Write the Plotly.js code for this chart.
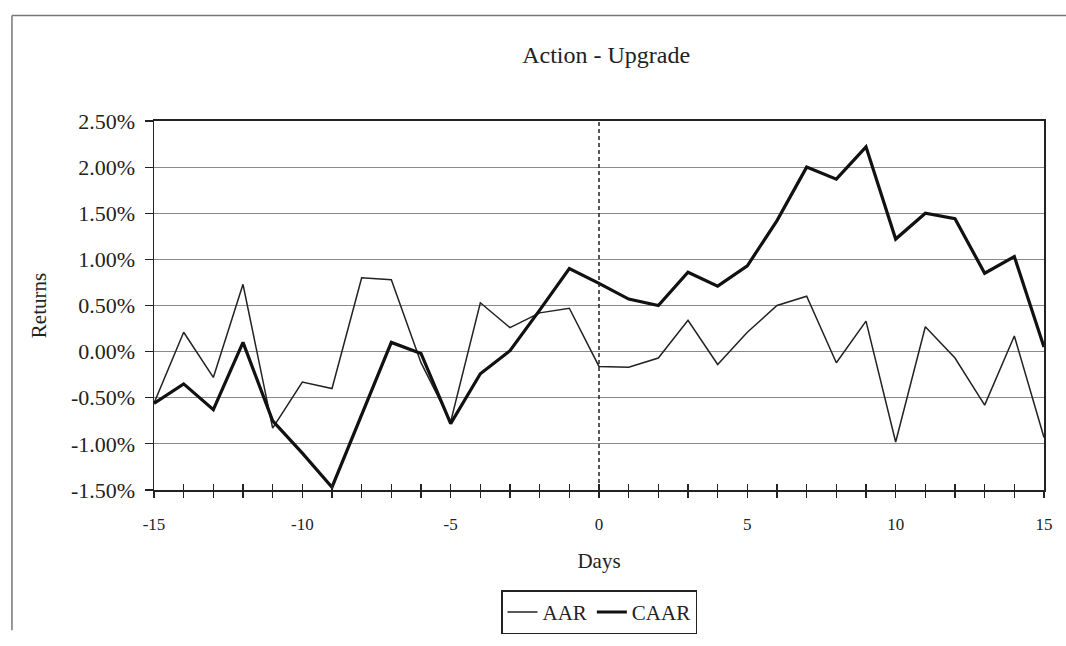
<!DOCTYPE html>
<html>
<head>
<meta charset="utf-8">
<script src="https://cdn.plot.ly/plotly-3.0.1.min.js"></script>
<style>
  html, body { margin: 0; padding: 0; background: #fff; }
  #chart { width: 1066px; height: 646px; }
</style>
</head>
<body>
<div id="chart"></div>
<script>
// Event days
const days = [-15,-14,-13,-12,-11,-10,-9,-8,-7,-6,-5,-4,-3,-2,-1,0,1,2,3,4,5,6,7,8,9,10,11,12,13,14,15];
// Average abnormal returns (%)
const aar = [-0.56,0.21,-0.28,0.73,-0.83,-0.33,-0.40,0.80,0.78,-0.12,-0.76,0.53,0.26,0.42,0.47,-0.16,-0.17,-0.07,0.34,-0.14,0.21,0.50,0.60,-0.12,0.33,-0.98,0.27,-0.07,-0.58,0.17,-0.93];
// Cumulative average abnormal returns (%)
const caar = [-0.56,-0.35,-0.63,0.10,-0.75,-1.10,-1.47,-0.68,0.10,-0.02,-0.78,-0.24,0.01,0.45,0.90,0.74,0.57,0.50,0.86,0.71,0.93,1.42,2.00,1.87,2.22,1.22,1.50,1.44,0.85,1.03,0.05];
const seriesNames = ['AAR', 'CAAR'];
// Tick labels (plain hyphen minus, as in the original)
const xTickVals = [-15, -10, -5, 0, 5, 10, 15];
const xTickText = ['-15', '-10', '-5', '0', '5', '10', '15'];
const yTickVals = [-1.5, -1.0, -0.5, 0.0, 0.5, 1.0, 1.5, 2.0, 2.5];
const yTickText = ['-1.50%', '-1.00%', '-0.50%', '0.00%', '0.50%', '1.00%', '1.50%', '2.00%', '2.50%'];

const serif = 'Liberation Serif, Times New Roman, serif';

const traces = [
  { x: days, y: aar, name: seriesNames[0], type: 'scatter', mode: 'lines',
    line: { color: '#222', width: 1.5 }, hoverinfo: 'skip' },
  { x: days, y: caar, name: seriesNames[1], type: 'scatter', mode: 'lines',
    line: { color: '#111', width: 3.2 }, hoverinfo: 'skip' },
  // helper trace so that the overlay axis (upper half of the cross ticks) is drawn
  { x: days, y: aar, xaxis: 'x2', type: 'scatter', mode: 'lines', showlegend: false,
    line: { width: 0 }, opacity: 0, hoverinfo: 'skip' }
];

const layout = {
  width: 1066, height: 646,
  paper_bgcolor: '#fff', plot_bgcolor: '#fff',
  margin: { l: 154, r: 22, t: 121, b: 144 },
  font: { family: serif, color: '#222', size: 20 },
  title: { text: 'Action - Upgrade', font: { family: serif, size: 24, color: '#222' },
           x: 0.508, xref: 'paper', xanchor: 'center', y: 0.915, yref: 'container', yanchor: 'middle' },
  showlegend: true,
  legend: { orientation: 'h', x: 0.5, xanchor: 'center', y: -0.272, yanchor: 'top',
            bordercolor: '#222', borderwidth: 1.5, bgcolor: '#fff',
            font: { family: serif, size: 21, color: '#222' },
            itemwidth: 30, tracegroupgap: 0, itemclick: false },
  xaxis: {
    range: [-15, 15], tickmode: 'array', tickvals: xTickVals, ticktext: xTickText,
    showgrid: false, zeroline: false,
    showline: true, linecolor: '#222', linewidth: 1.8, mirror: true,
    ticks: 'outside', ticklen: 6, tickwidth: 1.2, tickcolor: '#222',
    ticklabelstandoff: 12,
    minor: { dtick: 1, tick0: 0, ticks: 'outside', ticklen: 6, tickwidth: 1.2, tickcolor: '#222', showgrid: false },
    tickfont: { family: serif, size: 17, color: '#222' },
    title: { text: 'Days', font: { family: serif, size: 21, color: '#222' }, standoff: 20 }
  },
  xaxis2: {
    overlaying: 'x', anchor: 'y', side: 'bottom', matches: 'x',
    range: [-15, 15], dtick: 1, tick0: 0, tickmode: 'linear',
    showgrid: false, zeroline: false, showline: false, showticklabels: false,
    ticks: 'inside', ticklen: 6, tickwidth: 1.2, tickcolor: '#222'
  },
  yaxis: {
    range: [-1.5, 2.5], tickmode: 'array', tickvals: yTickVals, ticktext: yTickText,
    showgrid: true, gridcolor: '#8a8a8a', gridwidth: 1.2, zeroline: false,
    showline: true, linecolor: '#222', linewidth: 1.5, mirror: true,
    ticks: 'outside', ticklen: 8, tickwidth: 1.2, tickcolor: '#222',
    ticklabelstandoff: 5,
    tickfont: { family: serif, size: 22, color: '#222' },
    title: { text: 'Returns', font: { family: serif, size: 21, color: '#222' }, standoff: 18 }
  },
  shapes: [
    { type: 'line', xref: 'x', yref: 'paper', x0: 0, x1: 0, y0: 0, y1: 1,
      line: { color: '#222', width: 1.5, dash: '4px,3px' } },
    // outer chart frame (left and top edges of the scanned chart area)
    { type: 'line', xref: 'paper', yref: 'paper', x0: -0.1596, x1: -0.1596, y0: -0.38, y1: 1.286,
      line: { color: '#777', width: 1.5 } },
    { type: 'line', xref: 'paper', yref: 'paper', x0: -0.1596, x1: 1.03, y0: 1.286, y1: 1.286,
      line: { color: '#777', width: 1.5 } }
  ]
};

Plotly.newPlot('chart', traces, layout, { displayModeBar: false, staticPlot: true });
</script>
</body>
</html>
